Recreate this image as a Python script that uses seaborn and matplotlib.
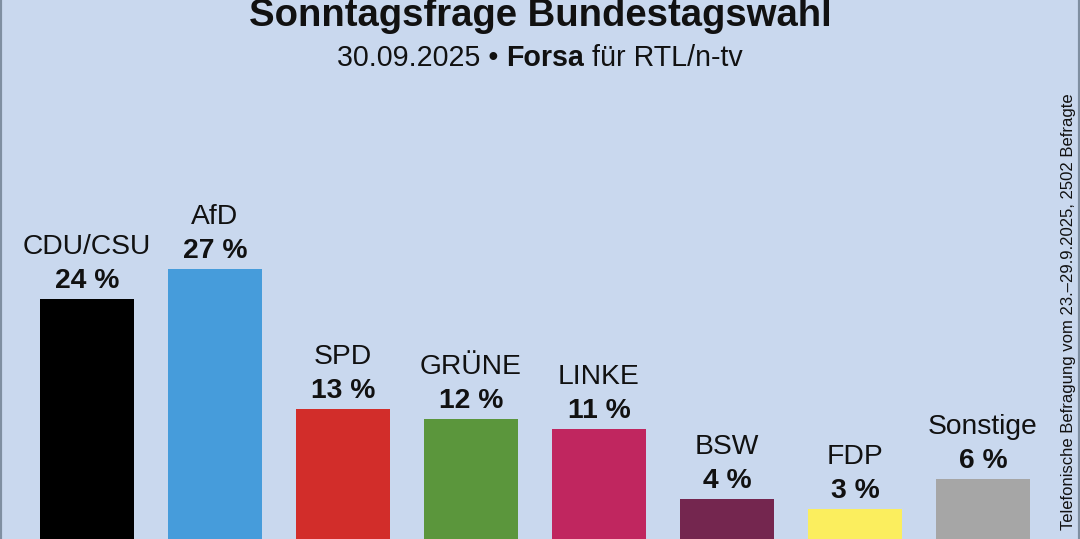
import matplotlib
matplotlib.use('Agg')
import seaborn as sns
import matplotlib.pyplot as plt

# Sonntagsfrage Forsa, 30.09.2025
parties = ['CDU/CSU', 'AfD', 'SPD', 'GRÜNE', 'LINKE', 'BSW', 'FDP', 'Sonstige']
values = [24, 27, 13, 12, 11, 4, 3, 6]
colors = ['#000000', '#469cdb', '#d22d2a', '#5b963c', '#c0265f', '#74264f', '#fbee5e', '#a6a6a6']

title = 'Sonntagsfrage Bundestagswahl'
sub_parts = [('30.09.2025 • ', 'normal'), ('Forsa', 'bold'), (' für RTL/n-tv', 'normal')]
side_note = 'Telefonische Befragung vom 23.–29.9.2025, 2502 Befragte'

bg = '#c9d8ee'

sns.set_theme(style='white')
plt.rcParams['font.family'] = ['Liberation Sans', 'DejaVu Sans']

W, H = 1080, 539
fig = plt.figure(figsize=(W / 100, H / 100), dpi=100, facecolor=bg)
ax = fig.add_axes([0, 0, 1, 1])
ax.set_facecolor(bg)

sns.barplot(x=parties, y=values, hue=parties, palette=colors, legend=False,
            width=0.734, saturation=1, linewidth=0, edgecolor='none', ax=ax)

ax.set_xlim(-87 / 128, (W - 87) / 128)
ax.set_ylim(0, H / 10)
ax.set_xticks([])
ax.set_yticks([])
ax.set_xlabel('')
ax.set_ylabel('')
for side in ['top', 'bottom']:
    ax.spines[side].set_visible(False)
for side in ['left', 'right']:
    ax.spines[side].set_color('#7f8fa1')
    ax.spines[side].set_linewidth(3)

for i, (name, v) in enumerate(zip(parties, values)):
    ax.text(i, v + 1.1, f'{v} %', ha='center', va='baseline',
            fontsize=20.3, fontweight='bold', color='#111111')
    ax.text(i, v + 4.5, name, ha='center', va='baseline',
            fontsize=20.3, color='#111111')

# title
fig.text(0.5, 1 - 26 / H, title, ha='center', va='baseline',
         fontsize=27.5, fontweight='bold', color='#111111')

# subtitle with bold "Forsa"
renderer = fig.canvas.get_renderer()
pieces = []
total = 0
for txt, wt in sub_parts:
    t = fig.text(0, 1 - 66 / H, txt, ha='left', va='baseline',
                 fontsize=20.6, fontweight=wt, color='#111111')
    w = t.get_window_extent(renderer).width
    pieces.append((t, w))
    total += w
x0 = (W - total) / 2
for t, w in pieces:
    t.set_x(x0 / W)
    x0 += w

fig.text(1068 / W, 1 - 312 / H, side_note, rotation=90, ha='center', va='center',
         fontsize=12, color='#111111')

fig.savefig('out.png', dpi=100, facecolor=bg)
